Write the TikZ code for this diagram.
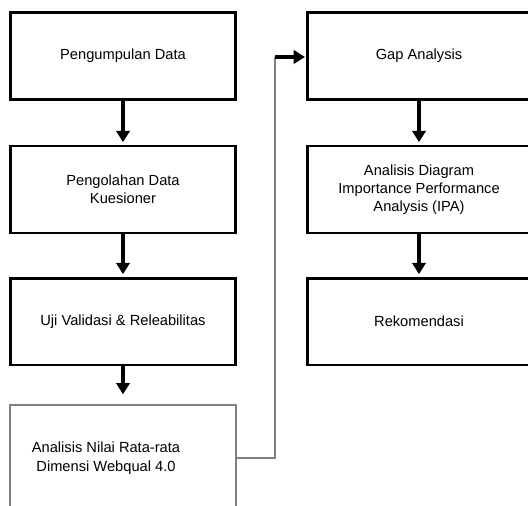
\documentclass[tikz,border=0pt]{standalone}
\usepackage{fontspec}
\setmainfont{Liberation Sans}
\usetikzlibrary{arrows.meta, positioning}
\definecolor{linkgray}{RGB}{128,128,128}

\begin{document}
\begin{tikzpicture}[
    x=0.75pt, y=-0.75pt,
    stage/.style={draw, line width=2pt, minimum width=168.75pt, minimum height=65pt, align=center, font=\fontsize{11}{13.5}\selectfont},
    arrow/.style={-{Triangle[length=8.5pt, width=10pt]}, line width=2.6pt, shorten >=2pt},
    link/.style={draw=linkgray, line width=0.8pt}
]
    \clip (0,0) rectangle (528,506);

    % left column
    \node[stage] (kumpul) at (123,56) {Pengumpulan Data};
    \node[stage] (olah) at (123,189.5) {Pengolahan Data\\Kuesioner};
    \node[stage] (uji) at (123,321.5) {Uji Validasi \& Releabilitas};
    \node[draw=linkgray, line width=1pt, minimum width=169.5pt, minimum height=105pt] (nilai) at (123,475) {};
    \node[align=center, font=\fontsize{11}{14.5}\selectfont] (nilaiTxt) at (106,458) {Analisis Nilai Rata-rata\\Dimensi Webqual 4.0};

    % right column
    \node[stage, minimum width=167pt] (gap) at (419,56) {Gap Analysis};
    \node[stage, minimum width=167pt] (ipa) at (419,189.5) {Analisis Diagram\\Importance Performance\\Analysis (IPA)};
    \node[stage, minimum width=167pt] (rekom) at (419,321.5) {Rekomendasi};

    \draw[arrow] (kumpul) -- (olah);
    \draw[arrow] (olah) -- (uji);
    \draw[arrow, shorten >=7.5pt] (uji) -- (nilai);
    \draw[arrow] (gap) -- (ipa);
    \draw[arrow] (ipa) -- (rekom);

    \coordinate (elbow) at (275,57);
    \draw[link] (nilaiTxt -| nilai.east) -| (elbow);
    \draw[arrow, shorten >=1pt] (elbow) -- (elbow -| gap.west);
\end{tikzpicture}
\end{document}
